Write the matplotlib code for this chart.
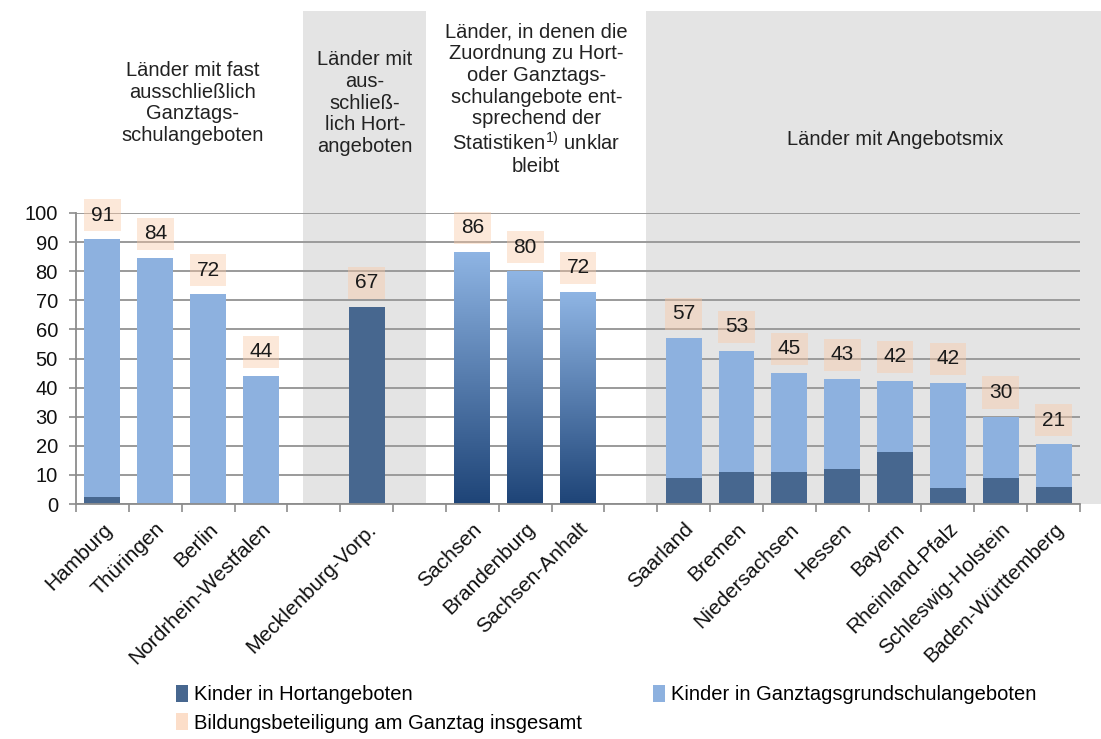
import numpy as np
import matplotlib
matplotlib.use("Agg")
import matplotlib.pyplot as plt
from matplotlib.patches import Patch, Rectangle
from matplotlib.transforms import blended_transform_factory

plt.rcParams['font.family'] = ['Liberation Sans', 'DejaVu Sans']
plt.rcParams['mathtext.fontset'] = 'custom'
plt.rcParams['mathtext.rm'] = 'Liberation Sans'
plt.rcParams['mathtext.it'] = 'Liberation Sans'

# ---- data ----
gruppe_1 = ["Hamburg", "Thüringen", "Berlin", "Nordrhein-Westfalen"]
gruppe_2 = ["Mecklenburg-Vorp."]
gruppe_3 = ["Sachsen", "Brandenburg", "Sachsen-Anhalt"]
gruppe_4 = ["Saarland", "Bremen", "Niedersachsen", "Hessen", "Bayern",
            "Rheinland-Pfalz", "Schleswig-Holstein", "Baden-Württemberg"]
gruppen = [gruppe_1, gruppe_2, gruppe_3, gruppe_4]

hort = [2.5, 0, 0, 0, 67.7, 0, 0, 0, 9, 11, 11, 12, 18, 5.5, 9, 6]
ganztag = [88.5, 84.5, 72, 44, 0, 0, 0, 0, 48, 41.6, 34, 31, 24.3, 36.1, 21, 14.5]
unklar = [0, 0, 0, 0, 0, 86.6, 80, 72.8, 0, 0, 0, 0, 0, 0, 0, 0]
gesamt = [91, 84, 72, 44, 67, 86, 80, 72, 57, 53, 45, 43, 42, 42, 30, 21]

gruppen_titel = [
    "Länder mit fast\nausschließlich\nGanztags-\nschulangeboten",
    "Länder mit\naus-\nschließ-\nlich Hort-\nangeboten",
    "Länder, in denen die\nZuordnung zu Hort-\noder Ganztags-\nschulangebote ent-\nsprechend der\nStatistiken$^{1)}$ unklar\nbleibt",
    "Länder mit Angebotsmix",
]
legende = ["Kinder in Hortangeboten", "Kinder in Ganztagsgrundschulangeboten",
           "Bildungsbeteiligung am Ganztag insgesamt"]
y_ticks = list(range(0, 101, 10))

# ---- layout ----
C_DARK = '#47678F'
C_LIGHT = '#8DB1DF'
C_BG = '#E4E4E4'
C_GRID = '#9A9A9A'
C_PEACH = '#FAC9A5'

x = []
pos = 0
for g in gruppen:
    for _ in g:
        x.append(pos)
        pos += 1
    pos += 1
x = np.array(x)
labels = [n for g in gruppen for n in g]

fig = plt.figure(figsize=(11.01, 7.39), dpi=100)
ax = fig.add_axes([76/1101, 1-504/739, (1080-76)/1101, (504-213)/739])
ax.set_xlim(-0.5, 18.5)
ax.set_ylim(0, 100)

trans = blended_transform_factory(ax.transData, ax.transAxes)
# gray group backgrounds
for x0, x1 in [(3.80, 6.13), (10.28, 20.5)]:
    ax.add_patch(Rectangle((x0, 0), x1 - x0, (504-11)/291, transform=trans,
                           facecolor=C_BG, edgecolor='none', clip_on=False, zorder=0.2))

ax.set_yticks(y_ticks)
ax.yaxis.grid(True, color=C_GRID, lw=1.4, zorder=0.5)
ax.set_axisbelow(True)
ax.patch.set_alpha(0)

w = 0.68
ax.bar(x, hort, width=w, color=C_DARK, zorder=2)
ax.bar(x, ganztag, width=w, bottom=hort, color=C_LIGHT, zorder=2)
grad_bars = ax.bar(x, unklar, width=w, color='none', zorder=2)
cmap = matplotlib.colors.LinearSegmentedColormap.from_list('g', ['#1E4477', '#8FB5E4'])
grad = np.linspace(0, 1, 256).reshape(-1, 1)
for b in grad_bars:
    h = b.get_height()
    if h <= 0:
        continue
    bx = b.get_x()
    im = ax.imshow(grad, cmap=cmap, origin='lower', aspect='auto',
                   extent=[bx, bx + b.get_width(), 0, h], zorder=2)
    im.set_clip_path(b)
ax.set_xlim(-0.5, 18.5)
ax.set_ylim(0, 100)

for xi, tot, top in zip(x, gesamt, np.maximum(np.array(hort) + np.array(ganztag), unklar)):
    ax.text(xi, top + 8.3, f"{tot}", ha='center', va='center', fontsize=15, color='#1a1a1a',
            zorder=3, clip_on=False,
            bbox=dict(boxstyle='square,pad=0.32', facecolor=C_PEACH, edgecolor='none', alpha=0.42))

# axes styling
for s in ['top', 'right']:
    ax.spines[s].set_visible(False)
ax.spines['left'].set_color('#8C8C8C')
ax.spines['bottom'].set_color('#8C8C8C')
ax.spines['left'].set_linewidth(1.3)
ax.spines['bottom'].set_linewidth(1.3)
ax.tick_params(axis='y', colors='#8C8C8C', labelcolor='#111111', labelsize=14.5,
               length=5, width=1.2, pad=8)
ax.set_xticks(x)
ax.set_xticklabels(labels, rotation=45, ha='right', rotation_mode='anchor', fontsize=15,
                   color='#111111')
ax.tick_params(axis='x', which='major', length=0, pad=11)
ax.set_xticks(np.arange(-0.5, 19, 1), minor=True)
ax.tick_params(axis='x', which='minor', length=6, width=1.2, color='#8C8C8C')

# group titles
for t, (gx, gy) in zip(gruppen_titel, [(1.70, 1.378), (4.97, 1.378), (8.21, 1.39), (15.01, 1.251)]):
    ax.text(gx, gy, t, transform=trans, ha='center', va='center', fontsize=14.5,
            color='#222222', linespacing=1.17, multialignment='center')

handles = [Patch(facecolor=C_DARK), Patch(facecolor=C_PEACH, alpha=0.6),
           Patch(facecolor=C_LIGHT)]
fig.legend(handles, [legende[0], legende[2], legende[1]], ncol=2,
           loc='upper left', bbox_to_anchor=(158/1101, 1-667/739), frameon=False,
           fontsize=14.5, handlelength=0.6, handleheight=0.9, handletextpad=0.3,
           columnspacing=3.5, labelspacing=0.45)

fig.savefig('out.png', dpi=100)
